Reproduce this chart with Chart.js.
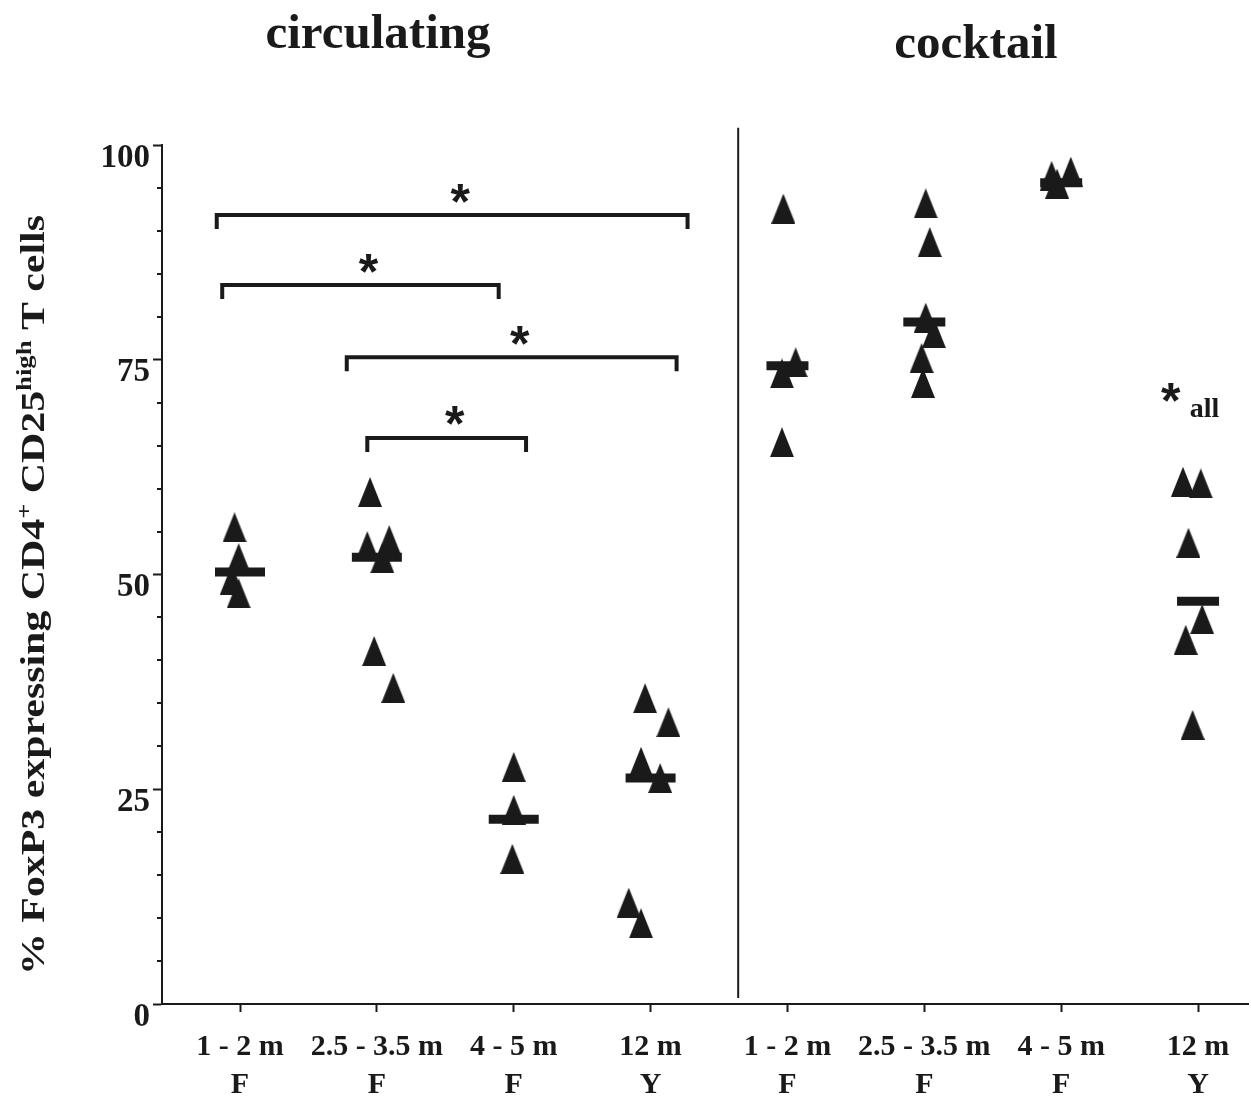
<!DOCTYPE html>
<html>
<head>
<meta charset="utf-8">
<script src="https://cdn.jsdelivr.net/npm/chart.js@4.4.0/dist/chart.umd.min.js"></script>
<style>
  html, body { margin: 0; padding: 0; background: #fff; }
  #wrap { width: 1251px; height: 1099px; position: relative; }
</style>
</head>
<body>
<div id="wrap"><canvas id="myChart"></canvas></div>
<script>
// x tick labels, one per group (4 circulating, 4 cocktail)
const tickLabels = [
  ['1 - 2 m', 'F'], ['2.5 - 3.5 m', 'F'], ['4 - 5 m', 'F'], ['12 m', 'Y'],
  ['1 - 2 m', 'F'], ['2.5 - 3.5 m', 'F'], ['4 - 5 m', 'F'], ['12 m', 'Y']
];
const yTicks = [0, 25, 50, 75, 100];

// circulating, % FoxP3+ and horizontal jitter (in group units)
const circ12 = [55.5, 51.9, 49.4, 47.8];
const circ12Jit = [-0.04, -0.01, -0.06, -0.01];
const circ25 = [59.6, 53.3, 54.0, 51.9, 41.1, 36.8];
const circ25Jit = [-0.05, -0.07, 0.09, 0.04, -0.02, 0.12];
const circ45 = [27.6, 22.6, 16.9];
const circ45Jit = [0, 0, -0.01];
const circ12m = [35.6, 32.8, 28.2, 26.3, 11.8, 9.4];
const circ12mJit = [-0.04, 0.13, -0.07, 0.07, -0.16, -0.07];

// cocktail
const cock12 = [92.6, 74.7, 73.4, 65.4];
const cock12Jit = [-0.03, 0.06, -0.04, -0.04];
const cock25 = [93.2, 88.7, 79.9, 78.1, 75.2, 72.3];
const cock25Jit = [0.01, 0.04, 0.01, 0.07, -0.02, -0.01];
const cock45 = [96.4, 96.9, 95.5];
const cock45Jit = [-0.07, 0.07, -0.03];
const cock12m = [60.8, 60.6, 53.7, 44.8, 42.4, 32.5];
const cock12mJit = [-0.11, 0.02, -0.07, 0.03, -0.09, -0.04];

const groupMeans = [50.3, 52.0, 21.5, 26.3, 74.3, 79.4, 95.6, 46.9];

// significance brackets (x in group units, y in %)
const bracketFrom = [0.83, 0.87, 1.78, 1.93];
const bracketTo = [4.27, 2.89, 4.19, 3.09];
const bracketLevel = [91.85, 83.7, 75.3, 65.9];

const ink = '#1b1a1a';
const serif = '"Liberation Serif", "Times New Roman", serif';

const groups = [
  [circ12, circ12Jit], [circ25, circ25Jit], [circ45, circ45Jit], [circ12m, circ12mJit],
  [cock12, cock12Jit], [cock25, cock25Jit], [cock45, cock45Jit], [cock12m, cock12mJit]
];
const points = [];
groups.forEach(([vals, jit], i) => {
  vals.forEach((v, k) => points.push({ x: i + 1 + jit[k], y: v }));
});
const means = groupMeans.map((m, i) => ({ x: i + 1, y: m }));

function makeTriangle(w, h) {
  const c = document.createElement('canvas');
  c.width = w; c.height = h;
  const g = c.getContext('2d');
  g.fillStyle = ink;
  g.beginPath();
  g.moveTo(w / 2, 0);
  g.lineTo(w, h);
  g.lineTo(0, h);
  g.closePath();
  g.fill();
  return c;
}
const triangle = makeTriangle(24, 30);

function star(ctx, px, py, size) {
  ctx.font = 'bold ' + size + 'px "Liberation Sans", Arial, sans-serif';
  const m = ctx.measureText('*');
  const base = py + (m.actualBoundingBoxAscent - m.actualBoundingBoxDescent) / 2;
  ctx.textAlign = 'center';
  ctx.textBaseline = 'alphabetic';
  ctx.fillText('*', px, base);
}

const extras = {
  id: 'extras',
  afterDraw(chart) {
    const { ctx, scales: { x, y } } = chart;
    ctx.save();
    ctx.fillStyle = ink;
    ctx.strokeStyle = ink;

    // headers
    ctx.font = 'bold 49px ' + serif;
    ctx.textAlign = 'center';
    ctx.textBaseline = 'alphabetic';
    ctx.fillText('circulating', 378, 48);
    ctx.fillText('cocktail', 976, 58);

    // minor y ticks
    ctx.lineWidth = 2;
    for (let v = 5; v < 100; v += 5) {
      if (v % 25 === 0) continue;
      const py = Math.round(y.getPixelForValue(v));
      ctx.beginPath();
      ctx.moveTo(chart.chartArea.left - 5, py);
      ctx.lineTo(chart.chartArea.left, py);
      ctx.stroke();
    }

    // divider between circulating and cocktail
    const dx = x.getPixelForValue(4.64);
    ctx.beginPath();
    ctx.moveTo(dx, y.getPixelForValue(102));
    ctx.lineTo(dx, y.getPixelForValue(0.7));
    ctx.stroke();

    // brackets
    ctx.lineWidth = 4;
    ctx.lineCap = 'butt';
    bracketLevel.forEach((lvl, i) => {
      const x1 = x.getPixelForValue(bracketFrom[i]);
      const x2 = x.getPixelForValue(bracketTo[i]);
      const py = y.getPixelForValue(lvl);
      ctx.beginPath();
      ctx.moveTo(x1, py + 14);
      ctx.lineTo(x1, py);
      ctx.lineTo(x2, py);
      ctx.lineTo(x2, py + 14);
      ctx.stroke();
      star(ctx, (x1 + x2) / 2 + 8, py - 22, 50);
    });

    // *all
    const ax = x.getPixelForValue(7.8);
    const ay = y.getPixelForValue(71.2);
    star(ctx, ax, ay, 50);
    ctx.font = 'bold 28px ' + serif;
    ctx.textAlign = 'left';
    ctx.textBaseline = 'alphabetic';
    ctx.fillText('all', ax + 19, ay + 25);

    // y title with superscripts
    const parts = [
      ['% FoxP3 expressing CD4', false], ['+', true], [' CD25', false],
      ['high', true], [' T cells', false]
    ];
    const mainFont = 'bold 33px ' + serif;
    const supFont = 'bold 21px ' + serif;
    let total = 0;
    parts.forEach(([t, sup]) => {
      ctx.font = sup ? supFont : mainFont;
      total += ctx.measureText(t).width;
    });
    ctx.translate(44, 595);
    ctx.rotate(-Math.PI / 2);
    ctx.scale(760 / total, 1);
    ctx.textAlign = 'left';
    let cx = -total / 2;
    parts.forEach(([t, sup]) => {
      ctx.font = sup ? supFont : mainFont;
      ctx.fillText(t, cx, sup ? -13 : 0);
      cx += ctx.measureText(t).width;
    });
    ctx.restore();
  }
};

const chart_obj = document.getElementById('myChart');

new Chart(chart_obj, {
  type: 'scatter',
  data: {
    datasets: [
      {
        label: 'means',
        data: means,
        pointStyle: 'line',
        pointRadius: means.map((_, i) => i < 4 ? 25 : 21),
        pointBorderWidth: 9,
        pointBorderColor: ink,
        borderColor: ink
      },
      {
        label: 'values',
        data: points,
        pointStyle: triangle,
        pointRadius: 12,
        backgroundColor: ink,
        borderColor: ink
      }
    ]
  },
  options: {
    responsive: true,
    maintainAspectRatio: false,
    animation: false,
    events: [],
    layout: { autoPadding: false, padding: { top: 145, right: 3, bottom: 0, left: 0 } },
    plugins: {
      legend: { display: false },
      tooltip: { enabled: false },
      title: { display: false }
    },
    scales: {
      x: {
        type: 'linear',
        min: 0.43,
        max: 8.365,
        afterBuildTicks: (scale) => {
          scale.ticks = tickLabels.map((_, i) => ({ value: i + 1 }));
        },
        afterFit: (scale) => { scale.height = 95; },
        ticks: {
          autoSkip: false,
          maxRotation: 0,
          minRotation: 0,
          padding: 16,
          color: ink,
          font: { family: serif, size: 30, weight: 'bold', lineHeight: 1.27 },
          callback: (v) => tickLabels[Math.round(v) - 1]
        },
        grid: {
          drawOnChartArea: false,
          drawTicks: true,
          tickLength: 8,
          tickWidth: 2,
          tickColor: ink
        },
        border: { display: true, color: ink, width: 2 }
      },
      y: {
        min: 0,
        max: 100,
        afterFit: (scale) => { scale.width = 162; },
        ticks: {
          stepSize: 5,
          autoSkip: false,
          padding: 3,
          labelOffset: 13,
          color: ink,
          font: { family: serif, size: 33, weight: 'bold' },
          callback: (v) => yTicks.includes(v) ? String(v) : ''
        },
        grid: {
          drawOnChartArea: false,
          drawTicks: true,
          tickLength: 9,
          tickWidth: 2,
          tickColor: (c) => (c.tick && yTicks.includes(c.tick.value)) ? ink : 'rgba(0,0,0,0)'
        },
        border: { display: true, color: ink, width: 2 }
      }
    }
  },
  plugins: [extras]
});
</script>
</body>
</html>
